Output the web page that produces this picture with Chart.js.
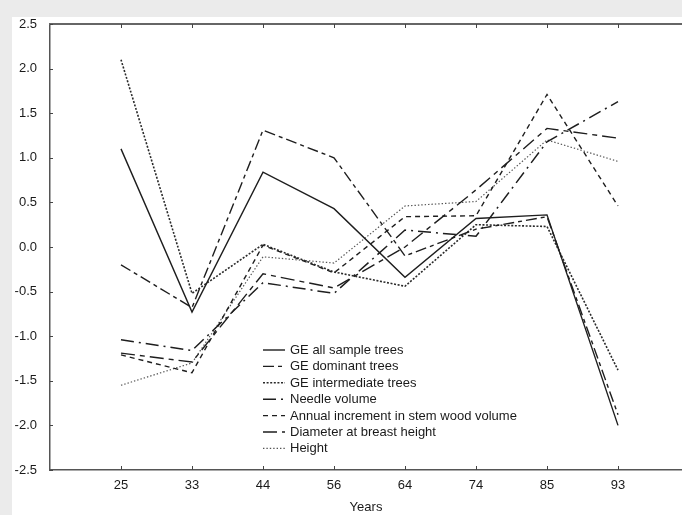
<!DOCTYPE html>
<html>
<head>
<meta charset="utf-8">
<script src="https://cdn.jsdelivr.net/npm/chart.js@4.4.1/dist/chart.umd.min.js"></script>
<style>
  html, body { margin: 0; padding: 0; background: #ebebeb; }
  #wrap { position: relative; width: 682px; height: 515px; }
</style>
</head>
<body>
<div id="wrap"><canvas id="c" width="682" height="515"></canvas></div>
<script>
// ---- data ----
const years = ['25', '33', '44', '56', '64', '74', '85', '93'];
const yTicks = [-2.5, -2.0, -1.5, -1.0, -0.5, 0.0, 0.5, 1.0, 1.5, 2.0, 2.5];
const geAll          = [1.10, -0.73, 0.84, 0.43, -0.34, 0.32, 0.36, -2.00];
const geDominant     = [-0.20, -0.68, 1.31, 1.00, -0.10, 0.20, 0.34, -1.88];
const geIntermediate = [2.10, -0.52, 0.03, -0.28, -0.44, 0.25, 0.23, -1.38];
const needleVolume   = [-1.04, -1.16, -0.40, -0.52, 0.19, 0.12, 1.18, 1.63];
const annualIncrement= [-1.21, -1.41, 0.02, -0.29, 0.34, 0.35, 1.71, 0.46];
const diameter       = [-1.19, -1.29, -0.30, -0.46, 0.00, 0.64, 1.33, 1.22];
const heightVals     = [-1.55, -1.30, -0.11, -0.18, 0.46, 0.51, 1.20, 0.96];

const seriesNames = [
  'GE all sample trees',
  'GE dominant trees',
  'GE intermediate trees',
  'Needle volume',
  'Annual increment in stem wood volume',
  'Diameter at breast height',
  'Height'
];
const seriesValues = [geAll, geDominant, geIntermediate, needleVolume, annualIncrement, diameter, heightVals];
const seriesStyles = [
  { color: '#1e1e1e', width: 1.4, dash: [] },
  { color: '#1e1e1e', width: 1.4, dash: [11, 4, 4, 4] },
  { color: '#2a2a2a', width: 1.6, dash: [2, 1.6] },
  { color: '#1e1e1e', width: 1.5, dash: [13, 5, 2, 5] },
  { color: '#1e1e1e', width: 1.4, dash: [5, 4] },
  { color: '#1e1e1e', width: 1.4, dash: [14, 5, 5, 5] },
  { color: '#555555', width: 1.2, dash: [1.4, 2] }
];

const toPoints = vals => vals.map((v, i) => ({ x: i + 1, y: v }));

const datasets = seriesNames.map((name, k) => ({
  label: name,
  data: toPoints(seriesValues[k]),
  borderColor: seriesStyles[k].color,
  borderWidth: seriesStyles[k].width,
  borderDash: seriesStyles[k].dash,
  pointRadius: 0,
  tension: 0,
  fill: false
}));

const FONT = 'Arial, "Liberation Sans", sans-serif';

const bgPlugin = {
  id: 'bg',
  beforeDraw(chart) {
    const ctx = chart.ctx;
    ctx.save();
    ctx.fillStyle = '#ebebeb';
    ctx.fillRect(0, 0, chart.width, chart.height);
    ctx.fillStyle = '#ffffff';
    ctx.fillRect(12, 17, chart.width - 12, chart.height - 17);
    ctx.restore();
  }
};

const framePlugin = {
  id: 'frame',
  afterDraw(chart) {
    const ctx = chart.ctx;
    const a = chart.chartArea;
    const xs = chart.scales.x, ys = chart.scales.y;
    ctx.save();
    // top axis line
    ctx.strokeStyle = '#666666';
    ctx.lineWidth = 2.2;
    ctx.beginPath();
    ctx.moveTo(a.left - 1, a.top);
    ctx.lineTo(a.right, a.top);
    ctx.stroke();
    // tick marks (inward)
    ctx.strokeStyle = '#444444';
    ctx.lineWidth = 1;
    xs.ticks.forEach(t => {
      const px = Math.round(xs.getPixelForValue(t.value)) + 0.5;
      ctx.beginPath();
      ctx.moveTo(px, a.bottom); ctx.lineTo(px, a.bottom - 4);
      ctx.moveTo(px, a.top); ctx.lineTo(px, a.top + 4);
      ctx.stroke();
    });
    ys.ticks.forEach(t => {
      const py = Math.round(ys.getPixelForValue(t.value)) + 0.5;
      ctx.beginPath();
      ctx.moveTo(a.left, py); ctx.lineTo(a.left + 3, py);
      ctx.stroke();
    });
    ctx.restore();
  }
};

const legendPlugin = {
  id: 'inlineLegend',
  afterDatasetsDraw(chart) {
    const ctx = chart.ctx;
    const x0 = 263, x1 = 285, tx = 290, y0 = 350, dy = 16.4;
    ctx.save();
    ctx.font = '13px ' + FONT;
    ctx.textBaseline = 'middle';
    ctx.textAlign = 'left';
    chart.data.datasets.forEach((ds, i) => {
      const y = y0 + i * dy;
      ctx.strokeStyle = ds.borderColor;
      ctx.lineWidth = ds.borderWidth;
      ctx.setLineDash(ds.borderDash);
      ctx.beginPath();
      ctx.moveTo(x0, y); ctx.lineTo(x1, y);
      ctx.stroke();
      ctx.setLineDash([]);
      ctx.fillStyle = '#1a1a1a';
      ctx.fillText(ds.label, tx, y + 0.5);
    });
    ctx.restore();
  }
};

new Chart(document.getElementById('c'), {
  type: 'line',
  data: { datasets },
  options: {
    responsive: false,
    animation: false,
    devicePixelRatio: 1,
    layout: { padding: { left: 0, right: 0, top: 24, bottom: 0 } },
    plugins: { legend: { display: false }, tooltip: { enabled: false } },
    scales: {
      x: {
        type: 'linear',
        min: 0,
        max: 632 / 71,
        afterFit(s) { s.height = 45; },
        afterBuildTicks(s) { s.ticks = years.map((_, i) => ({ value: i + 1 })); },
        ticks: {
          callback: (v) => years[v - 1] ?? '',
          font: { family: FONT, size: 13 },
          color: '#1a1a1a',
          padding: 8,
          maxRotation: 0,
          autoSkip: false
        },
        grid: { display: false, drawTicks: false },
        border: { display: true, color: '#555555', width: 1.5 },
        title: {
          display: true,
          text: 'Years',
          font: { family: FONT, size: 13 },
          color: '#1a1a1a',
          padding: { top: 0, bottom: 0 }
        }
      },
      y: {
        type: 'linear',
        min: -2.5,
        max: 2.5,
        afterFit(s) { s.width = 50; },
        afterBuildTicks(s) { s.ticks = yTicks.map(v => ({ value: v })); },
        ticks: {
          callback: (v) => Number(v).toFixed(1),
          font: { family: FONT, size: 13 },
          color: '#1a1a1a',
          padding: 13
        },
        grid: { display: false, drawTicks: false },
        border: { display: true, color: '#555555', width: 1.5 }
      }
    }
  },
  plugins: [bgPlugin, framePlugin, legendPlugin]
});
</script>
</body>
</html>
